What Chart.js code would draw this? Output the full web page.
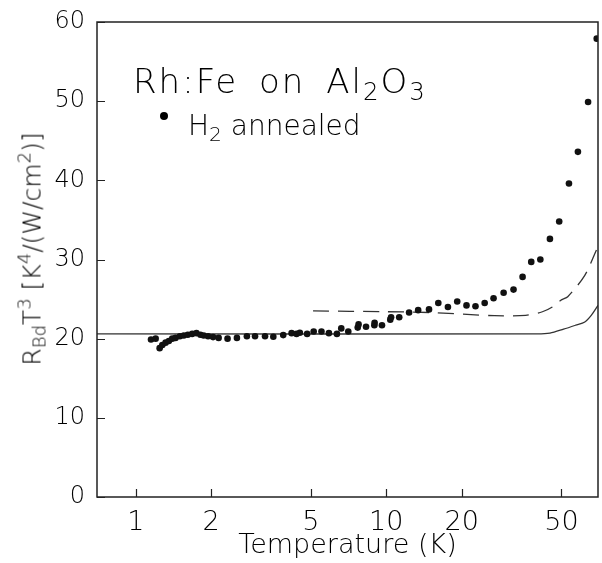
<!DOCTYPE html>
<html>
<head>
<meta charset="utf-8">
<script src="https://cdn.jsdelivr.net/npm/chart.js@4.4.1/dist/chart.umd.min.js"></script>
<style>
  html, body { margin: 0; padding: 0; background: #fff; }
  #wrap { position: relative; width: 602px; height: 563px; font-family: "DejaVu Sans", sans-serif; color: #000; }
  #chart { position: absolute; left: 0; top: 0; }
  .note { position: absolute; white-space: nowrap; font-weight: 200; }
  .note sub { font-size: 0.72em; vertical-align: -0.28em; line-height: 0; }
  .note sup { font-size: 0.72em; vertical-align: 0.55em; line-height: 0; }
  #note1 { left: 133px; top: 64px; font-size: 34px; line-height: 34px; letter-spacing: 2px; word-spacing: 8px; }
  #note2 { left: 160px; top: 112px; font-size: 28px; line-height: 28px; }
  #dot { display: inline-block; width: 8px; height: 8px; border-radius: 50%; background: #000; vertical-align: 0.55em; margin-right: 20px; }
  #ytitle { left: 32px; top: 249px; font-size: 25px; line-height: 25px; transform: translate(-50%, -50%) rotate(-90deg); }
</style>
</head>
<body>
<div id="wrap">
  <canvas id="chart" width="602" height="563"></canvas>
  <div class="note" id="note1">Rh:Fe on Al<sub>2</sub>O<sub>3</sub></div>
  <div class="note" id="note2"><span id="dot"></span>H<sub>2</sub> annealed</div>
  <div class="note" id="ytitle">R<sub>Bd</sub>T<sup>3</sup> [K<sup>4</sup>/(W/cm<sup>2</sup>)]</div>
</div>
<script>
// measured points (temperature in K, R_Bd*T^3)
const tempData = [1.15, 1.2, 1.245, 1.276, 1.315, 1.355, 1.398, 1.441, 1.5, 1.555, 1.613, 1.679, 1.746, 1.811,
    1.866, 1.943, 2.034, 2.141, 2.324, 2.533, 2.776, 2.992, 3.28, 3.54, 3.878, 4.187, 4.382, 4.517, 4.83,
    5.13, 5.51, 5.9, 6.35, 6.61, 7.05, 7.69, 7.75, 8.3, 8.96, 8.98, 9.61, 10.37, 10.45, 11.26, 12.33,
    13.4, 14.81, 16.13, 17.62, 19.19, 20.9, 22.7, 24.7, 26.8, 29.4, 32.2, 35.0, 37.9, 41.2, 45.0, 49.0,
    53.6, 58.2, 63.9, 69.2];
const rData = [19.9, 20.0, 18.8, 19.2, 19.5, 19.7, 20.0, 20.1, 20.3, 20.4, 20.5, 20.6, 20.7, 20.5,
    20.4, 20.3, 20.2, 20.1, 20.0, 20.1, 20.3, 20.3, 20.3, 20.25, 20.45, 20.7, 20.6, 20.75, 20.6,
    20.9, 20.9, 20.7, 20.6, 21.3, 20.9, 21.4, 21.8, 21.5, 21.7, 22.0, 21.7, 22.4, 22.7, 22.7, 23.3,
    23.6, 23.7, 24.5, 24.0, 24.7, 24.2, 24.1, 24.5, 25.1, 25.8, 26.2, 27.8, 29.7, 30.0, 32.6, 34.8,
    39.6, 43.6, 49.9, 57.9];

// solid curve
const solidT = [0.7, 40, 45, 51, 57, 62, 66, 70];
const solidR = [20.6, 20.6, 20.7, 21.2, 21.7, 22.1, 23.0, 24.2];

// dashed curve
const dashT = [5.1, 10, 15, 27, 36, 42, 46, 50, 53, 62, 69];
const dashR = [23.5, 23.4, 23.3, 22.9, 22.95, 23.4, 24.0, 24.9, 25.3, 28.0, 31.2];

const xTicks = [1, 2, 5, 10, 20, 50];
const yTicks = [0, 10, 20, 30, 40, 50, 60];

const ink = '#000';
const fontFamily = '"DejaVu Sans", sans-serif';

function pairs(xs, ys) {
    return xs.map((x, i) => ({ x: x, y: ys[i] }));
}

// box round the plot with inward tick marks
const framePlugin = {
    id: 'frame',
    afterDraw(chart) {
        const ctx = chart.ctx;
        const a = chart.chartArea;
        const xs = chart.scales.x;
        const ys = chart.scales.y;
        ctx.save();
        ctx.strokeStyle = '#222';
        ctx.lineWidth = 1.5;
        ctx.strokeRect(a.left, a.top, a.right - a.left, a.bottom - a.top);
        ctx.lineWidth = 1.2;
        ctx.beginPath();
        xTicks.forEach(v => {
            const px = Math.round(xs.getPixelForValue(v)) + 0.5;
            ctx.moveTo(px, a.bottom);
            ctx.lineTo(px, a.bottom - 8);
        });
        yTicks.forEach(v => {
            const py = Math.round(ys.getPixelForValue(v)) + 0.5;
            ctx.moveTo(a.left, py);
            ctx.lineTo(a.left + 8, py);
        });
        ctx.stroke();
        ctx.restore();
    }
};

const ctx = document.getElementById('chart').getContext('2d');
new Chart(ctx, {
    type: 'scatter',
    data: {
        datasets: [
            {
                label: 'H2 annealed',
                data: pairs(tempData, rData),
                pointRadius: 3.3,
                pointBackgroundColor: '#111',
                pointBorderWidth: 0,
                showLine: false
            },
            {
                label: 'solid',
                data: pairs(solidT, solidR),
                showLine: true,
                pointRadius: 0,
                borderColor: '#333',
                borderWidth: 1.3,
                tension: 0.3
            },
            {
                label: 'dashed',
                data: pairs(dashT, dashR),
                showLine: true,
                pointRadius: 0,
                borderColor: '#333',
                borderWidth: 1.3,
                borderDash: [16, 9],
                tension: 0.3
            }
        ]
    },
    options: {
        responsive: false,
        animation: false,
        devicePixelRatio: 1,
        layout: { padding: { left: 0, right: 1, top: 22, bottom: 0 } },
        plugins: {
            legend: { display: false },
            tooltip: { enabled: false }
        },
        scales: {
            x: {
                type: 'logarithmic',
                min: 0.7,
                max: 70,
                afterBuildTicks: scale => { scale.ticks = xTicks.map(v => ({ value: v })); },
                afterFit: scale => { scale.height = 66; },
                grid: { display: false },
                border: { display: false },
                ticks: {
                    autoSkip: false,
                    maxRotation: 0,
                    padding: 2,
                    color: ink,
                    font: { family: fontFamily, size: 27, weight: '200' },
                    callback: v => String(v)
                },
                title: {
                    display: true,
                    text: 'Temperature (K)',
                    color: ink,
                    font: { family: fontFamily, size: 27, weight: '200' },
                    padding: { top: 0, bottom: 1 }
                }
            },
            y: {
                min: 0,
                max: 60,
                afterBuildTicks: scale => { scale.ticks = yTicks.map(v => ({ value: v })); },
                afterFit: scale => { scale.width = 97; },
                grid: { display: false },
                border: { display: false },
                ticks: {
                    padding: 4,
                    color: ink,
                    font: { family: fontFamily, size: 24, weight: '200' }
                }
            }
        }
    },
    plugins: [framePlugin]
});
</script>
</body>
</html>
